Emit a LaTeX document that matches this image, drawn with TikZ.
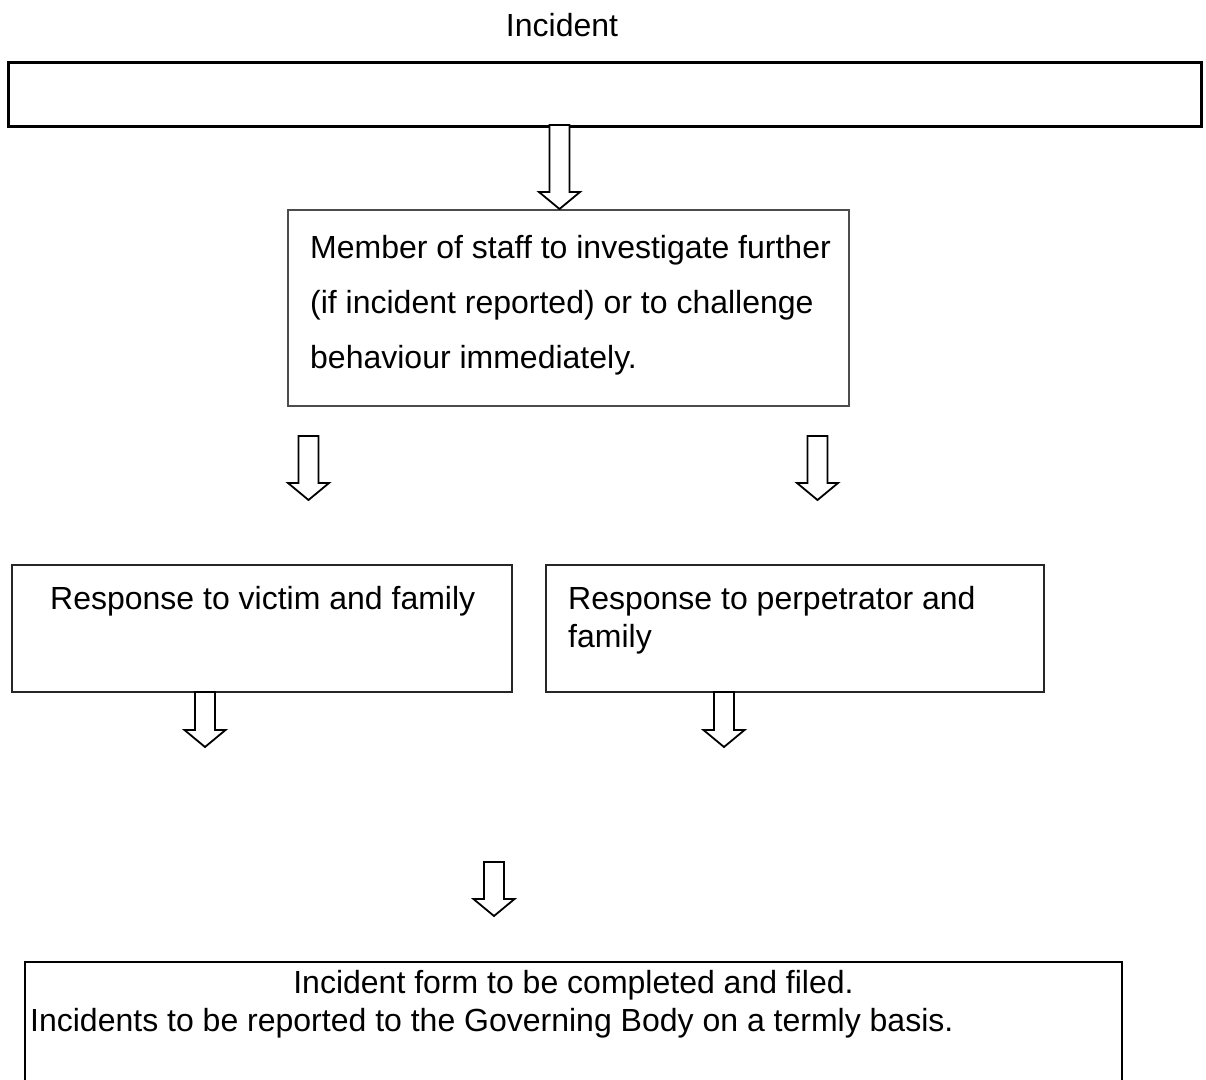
\documentclass[tikz,border=0pt]{standalone}
\usepackage{fontspec}
\setmainfont{Liberation Sans}
\usetikzlibrary{positioning}

\tikzset{
  box/.style={draw, rectangle, inner sep=0pt, outer sep=0pt, anchor=north west},
  txt/.style={inner sep=0pt, anchor=base west, font=\fontsize{32}{38}\selectfont},
  hollow/.style={draw, line width=1.8pt, fill=white, line join=miter}
}
% hollow down arrow: top point, length
\newcommand{\downarrowat}[2]{%
  \draw[hollow] #1 ++(-10,0) -- ++(0,{#2-17}) -- ++(-10.5,0) -- ++(20.5,17)
    -- ++(20.5,-17) -- ++(-10.5,0) -- ++(0,{17-#2}) -- cycle;}

\begin{document}
\begin{tikzpicture}[x=1pt,y=-1pt]
    \useasboundingbox (0,0) rectangle (1206,1079);
    \clip (0,0) rectangle (1206,1079);
    % top
    \node[txt, anchor=base] (title) at (562,36) {Incident};
    \node[box, line width=3pt, minimum width=1193pt, minimum height=64pt] (incbox) at (8,62) {};
    % member of staff
    \node[box, line width=1.4pt, draw=black!70, minimum width=561pt, minimum height=196pt] (staff) at (288,210) {};
    \node[txt, font=\fontsize{32}{55}\selectfont] (stafftext) at (310,258)
        {\parbox[t]{530pt}{Member of staff to investigate further\\(if incident reported) or to challenge\\behaviour immediately.}};
    % responses
    \node[box, line width=2pt, draw=black!85, minimum width=500pt, minimum height=127pt] (victim) at (12,565) {};
    \node[txt] (victimtext) at (50,609) {Response to victim and family};
    \node[box, line width=2pt, draw=black!85, minimum width=498pt, minimum height=127pt] (perp) at (546,565) {};
    \node[txt] (perptext) at (568,609) {\parbox[t]{460pt}{Response to perpetrator and\\family}};
    % form
    \node[box, line width=2.5pt, minimum width=1097pt, minimum height=200pt] (form) at (25,962) {};
    \node[txt, anchor=base] (formtext) at (573.5,993) {Incident form to be completed and filed.};
    \node[txt] (govtext) at (30,1031) {Incidents to be reported to the Governing Body on a termly basis.};
    % arrows
    \coordinate (a1) at (559.5,125);
    \coordinate (a2) at (308.5,436);
    \coordinate (a3) at (817.5,436);
    \coordinate (a4) at (205,692);
    \coordinate (a5) at (724,692);
    \coordinate (a6) at (494,862);
    \downarrowat{(a1)}{84}
    \downarrowat{(a2)}{64}
    \downarrowat{(a3)}{64}
    \downarrowat{(a4)}{55}
    \downarrowat{(a5)}{55}
    \downarrowat{(a6)}{54}
\end{tikzpicture}
\end{document}
